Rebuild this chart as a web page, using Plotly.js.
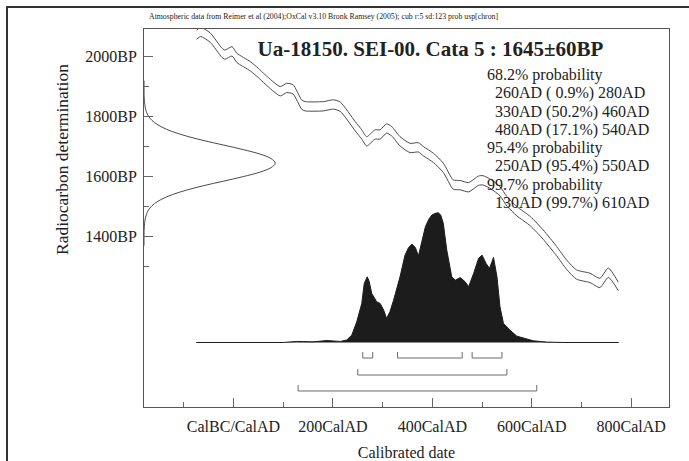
<!DOCTYPE html>
<html>
<head>
<meta charset="utf-8">
<script src="https://cdn.plot.ly/plotly-3.0.1.min.js"></script>
<style>
html,body{margin:0;padding:0;background:#fff;}
#chart{width:689px;height:461px;}
</style>
</head>
<body>
<div id="chart"></div>
<script>
// Calibration curve (IntCal04 envelope), calendar years AD vs radiocarbon BP
const calYears = [-74, -66, -47, -23, -17, -3, 7, 34, 50, 64, 94, 107, 120, 137, 144, 181, 201, 215, 245, 258, 268, 285, 295, 308, 318, 335, 355, 372, 382, 402, 422, 442, 456, 473, 493, 502, 518, 536, 550, 570, 597, 623, 650, 670, 690, 717, 737, 754, 774];
const calUpper = [2088, 2098, 2079, 2028, 2022, 2033, 2011, 1983, 1961, 1939, 1900, 1911, 1906, 1856, 1850, 1850, 1856, 1848, 1783, 1756, 1733, 1756, 1756, 1776, 1767, 1733, 1711, 1713, 1700, 1678, 1645, 1589, 1587, 1580, 1602, 1603, 1590, 1567, 1533, 1500, 1467, 1422, 1367, 1322, 1289, 1278, 1261, 1295, 1248];
const calLower = [2058, 2067, 2048, 1997, 1991, 2002, 1980, 1952, 1930, 1908, 1869, 1880, 1875, 1825, 1819, 1819, 1825, 1817, 1752, 1725, 1702, 1725, 1725, 1745, 1736, 1702, 1680, 1682, 1669, 1647, 1614, 1558, 1556, 1549, 1571, 1572, 1559, 1536, 1502, 1469, 1436, 1391, 1336, 1291, 1258, 1247, 1230, 1264, 1220];

// Radiocarbon determination 1645±60BP (relative likelihood)
const c14BP  = [1370, 1405, 1435, 1465, 1480, 1495, 1510, 1525, 1540, 1555, 1570, 1585, 1600, 1615, 1630, 1645, 1660, 1675, 1690, 1705, 1720, 1735, 1750, 1765, 1780, 1795, 1810, 1825, 1855, 1885, 1920];
const c14Den = [0.0, 0.0001, 0.0006, 0.003, 0.006, 0.011, 0.020, 0.034, 0.054, 0.081, 0.114, 0.152, 0.189, 0.221, 0.242, 0.25, 0.242, 0.221, 0.189, 0.152, 0.114, 0.081, 0.054, 0.034, 0.020, 0.011, 0.006, 0.003, 0.0006, 0.0001, 0.0];

// Calibrated probability distribution
const postYears = [-75, 100, 127, 160, 188, 200, 215, 228, 238, 248, 258, 263, 269, 273, 278, 288, 295, 302, 308, 315, 322, 335, 345, 352, 359, 366, 372, 379, 386, 393, 399, 406, 412, 417, 422, 429, 439, 446, 456, 466, 473, 483, 493, 500, 508, 515, 523, 530, 536, 543, 556, 570, 590, 603, 630, 663, 775];
const postProb  = [0, 0, 0.008, 0.005, 0.015, 0.01, 0.008, 0.02, 0.057, 0.16, 0.30, 0.455, 0.506, 0.47, 0.378, 0.314, 0.30, 0.25, 0.185, 0.24, 0.326, 0.506, 0.673, 0.73, 0.758, 0.73, 0.666, 0.78, 0.892, 0.95, 0.982, 0.995, 1.0, 0.98, 0.918, 0.712, 0.506, 0.48, 0.50, 0.468, 0.43, 0.532, 0.648, 0.673, 0.609, 0.571, 0.655, 0.506, 0.275, 0.147, 0.095, 0.049, 0.026, 0.013, 0.003, 0, 0];

// Ranges
const range68 = [[260, 280], [330, 460], [480, 540]];
const range95 = [[250, 550]];
const range99 = [[130, 610]];

// Axis ticks
const xTickVals = [0, 200, 400, 600, 800];
const xTickText = ['CalBC/CalAD', '200CalAD', '400CalAD', '600CalAD', '800CalAD'];
const xMinorVals = [-100, 100, 300, 500, 700];
const yTickVals = [1400, 1600, 1800, 2000];
const yTickText = ['1400BP', '1600BP', '1800BP', '2000BP'];
const yMinorVals = [1300, 1500, 1700, 1900];

// Text
const titleText = 'Ua-18150. SEI-00. Cata 5 : 1645±60BP';
const headerText = 'Atmospheric data from Reimer et al (2004);OxCal v3.10 Bronk Ramsey (2005); cub r:5 sd:123 prob usp[chron]';
const probLines = [
  ['68.2% probability', 0],
  ['260AD (\u00a00.9%) 280AD', 1],
  ['330AD (50.2%) 460AD', 1],
  ['480AD (17.1%) 540AD', 1],
  ['95.4% probability', 0],
  ['250AD (95.4%) 550AD', 1],
  ['99.7% probability', 0],
  ['130AD (99.7%) 610AD', 1]
];

const FONT = 'Liberation Serif, Times New Roman, serif';
const LINEC = '#4a4a4a';

// geometry helpers (pixel -> paper)
const L = 144, R = 669, T = 29, B = 407;
const px = v => (v - L) / (R - L);
const py = v => (B - v) / (B - T);

function bracketTrace(ranges, yBar, yTop) {
  const xs = [], ys = [];
  ranges.forEach(r => {
    xs.push(r[0], r[0], r[1], r[1], null);
    ys.push(yTop, yBar, yBar, yTop, null);
  });
  return {x: xs, y: ys, xaxis: 'x', yaxis: 'y2', mode: 'lines',
    line: {color: '#6a6a6a', width: 1}, hoverinfo: 'skip', showlegend: false};
}

const traces = [
  {x: calYears, y: calUpper, mode: 'lines', line: {color: LINEC, width: 1, shape: 'spline', smoothing: 0.6}, showlegend: false, hoverinfo: 'skip'},
  {x: calYears, y: calLower, mode: 'lines', line: {color: LINEC, width: 1, shape: 'spline', smoothing: 0.6}, showlegend: false, hoverinfo: 'skip'},
  {x: c14Den, y: c14BP, xaxis: 'x2', yaxis: 'y', mode: 'lines', line: {color: LINEC, width: 1, shape: 'spline'}, showlegend: false, hoverinfo: 'skip'},
  {x: postYears, y: postProb, xaxis: 'x', yaxis: 'y2', mode: 'lines', fill: 'tozeroy', fillcolor: '#1c1c1c',
    line: {color: '#1c1c1c', width: 1}, showlegend: false, hoverinfo: 'skip'},
  bracketTrace(range68, -0.1195, -0.073),
  bracketTrace(range95, -0.2505, -0.2042),
  bracketTrace(range99, -0.3737, -0.3275)
];

const annotations = [
  {text: headerText, xref: 'paper', yref: 'paper', x: px(147), y: py(17), xanchor: 'left', yanchor: 'middle',
    showarrow: false, font: {family: FONT, size: 7.8, color: '#222'}},
  {text: 'Radiocarbon determination', xref: 'paper', yref: 'paper', x: px(62), y: py(160), xanchor: 'center', yanchor: 'middle',
    textangle: -90, showarrow: false, font: {family: FONT, size: 17.5, color: '#222'}}
];
probLines.forEach((ln, i) => {
  annotations.push({text: ln[0], xref: 'paper', yref: 'paper', x: px(ln[1] ? 493 : 485), y: py(75 + i * 18.25),
    xanchor: 'left', yanchor: 'middle', showarrow: false, font: {family: FONT, size: 16, color: '#222'}});
});

const layout = {
  width: 689, height: 461,
  margin: {l: L, r: 689 - R, t: T, b: 461 - B, pad: 0},
  paper_bgcolor: '#fff', plot_bgcolor: '#fff',
  font: {family: FONT, size: 16, color: '#222'},
  title: {text: '<b>' + titleText + '</b>', xref: 'paper', x: px(430.5), xanchor: 'center',
    yref: 'container', y: 1 - 49 / 461, yanchor: 'middle', font: {family: FONT, size: 21, color: '#222'}},
  xaxis: {range: [-180, 876], tickmode: 'array', tickvals: xTickVals, ticktext: xTickText,
    ticks: 'inside', ticklen: 9, tickwidth: 1, tickcolor: '#666',
    minor: {tickmode: 'array', tickvals: xMinorVals, ticks: 'inside', ticklen: 5, tickwidth: 1, tickcolor: '#666'},
    showline: true, mirror: true, linecolor: '#555', linewidth: 1, showgrid: false, zeroline: false,
    tickfont: {family: FONT, size: 16, color: '#222'}, ticklabelstandoff: 5,
    title: {text: 'Calibrated date', font: {family: FONT, size: 16, color: '#222'}, standoff: 14}},
  yaxis: {range: [832, 2092], tickmode: 'array', tickvals: yTickVals, ticktext: yTickText,
    ticks: 'inside', ticklen: 9, tickwidth: 1, tickcolor: '#666',
    minor: {tickmode: 'array', tickvals: yMinorVals, ticks: 'inside', ticklen: 5, tickwidth: 1, tickcolor: '#666'},
    showline: true, mirror: true, linecolor: '#555', linewidth: 1, showgrid: false, zeroline: false,
    tickfont: {family: FONT, size: 16, color: '#222'}, ticklabelstandoff: 3},
  xaxis2: {overlaying: 'x', range: [0, 1], visible: false, fixedrange: true},
  yaxis2: {overlaying: 'y', range: [-0.497, 2.415], visible: false, fixedrange: true},
  annotations: annotations,
  shapes: [
    {type: 'rect', xref: 'paper', yref: 'paper', x0: px(7), x1: px(700), y0: py(480), y1: py(7),
      line: {color: '#333', width: 2}, fillcolor: 'rgba(0,0,0,0)', layer: 'below'}
  ]
};

Plotly.newPlot('chart', traces, layout, {staticPlot: true, displayModeBar: false});
</script>
</body>
</html>
